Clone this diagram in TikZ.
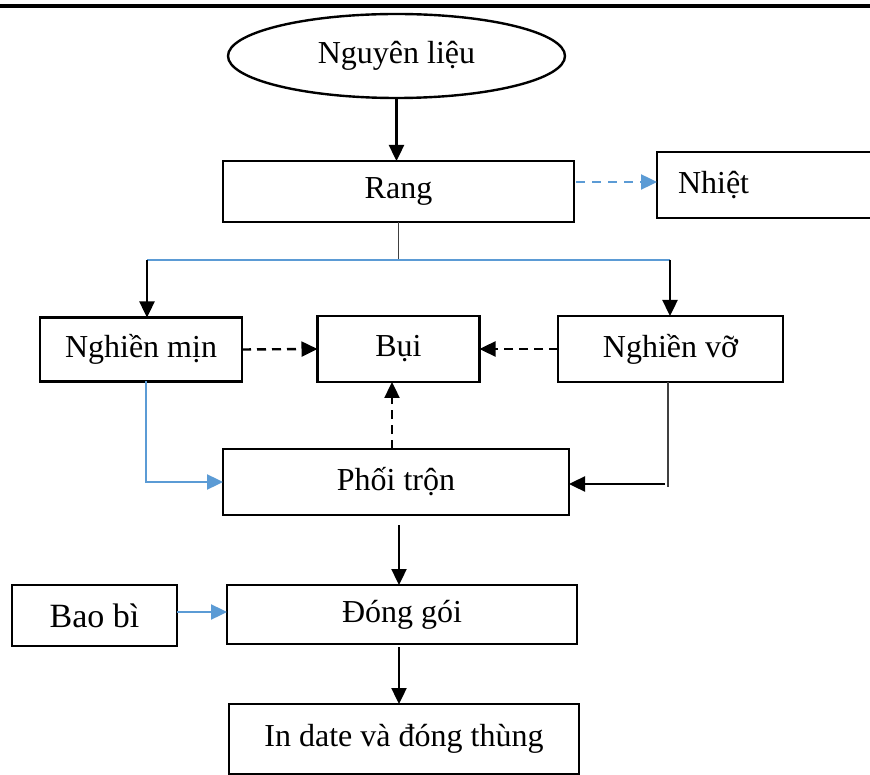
\documentclass[tikz,border=0pt]{standalone}
\usepackage{fontspec}
\setmainfont{Liberation Serif}
\usetikzlibrary{arrows.meta,shapes.geometric,calc}
\definecolor{flowblue}{HTML}{5B9BD5}
\definecolor{linegray}{HTML}{404040}
\tikzset{
  stepbox/.style={draw=black, line width=2.4pt, rectangle, inner sep=0pt, outer sep=0pt,
    font=\fontsize{32}{36}\selectfont},
  mainarrow/.style={draw=black, line width=2.4pt, -{Triangle[length=16pt,width=15pt]}},
  dustarrow/.style={draw=black, line width=2.4pt, dash pattern=on 9pt off 6pt, -{Triangle[length=16pt,width=15pt]}},
  bluearrow/.style={draw=flowblue, line width=2.4pt, -{Triangle[length=16pt,width=15pt]}},
  blueline/.style={draw=flowblue, line width=1.8pt},
  grayline/.style={draw=linegray, line width=1.5pt},
}
\begin{document}
\begin{tikzpicture}[x=1pt,y=-1pt]
\clip (0,0) rectangle (870,775);
\fill[white] (0,0) rectangle (870,775);

% rule across the top
\draw[line width=4pt] (0,6.5) -- (870,6.5);

% process steps
\node[ellipse, draw, line width=2.4pt, minimum width=337pt, minimum height=84pt, inner sep=0pt,
  font=\fontsize{32}{36}\selectfont] (nguyenlieu) at (396.5,56) {Nguyên liệu};
\node[stepbox, minimum width=351pt, minimum height=61pt] (rang) at (398.5,191.5) {Rang};
\node[stepbox, minimum width=230pt, minimum height=66pt, text width=188pt, inner xsep=21pt, align=left,
  anchor=north west] (nhiet) at (657,152) {Nhiệt};
\node[stepbox, minimum width=202pt, minimum height=64pt] (nghienmin) at (141,349.5) {Nghiền mịn};
\node[stepbox, minimum width=162pt, minimum height=66pt] (bui) at (398.5,349) {Bụi};
\node[stepbox, minimum width=225pt, minimum height=66pt] (nghienvo) at (670.5,349) {Nghiền vỡ};
\node[stepbox, minimum width=346pt, minimum height=66pt] (phoitron) at (396,482) {Phối trộn};
\node[stepbox, minimum width=350pt, minimum height=59pt] (donggoi) at (402,614.5) {Đóng gói};
\node[stepbox, minimum width=165pt, minimum height=61pt, font=\fontsize{34}{38}\selectfont] (baobi) at (94.5,615.5) {Bao bì};
\node[stepbox, minimum width=350pt, minimum height=70pt] (indate) at (404,739) {In date và đóng thùng};

% junction points
\coordinate (split) at (rang.south |- 0,260);
\coordinate (splitL) at (147,260);
\coordinate (splitR) at (670,260);
\coordinate (voturn) at (668,487);
\coordinate (voarrow) at (665,484);

% connectors
\draw[mainarrow] (nguyenlieu.south) -- (nguyenlieu.south |- rang.north);
\draw[bluearrow, dash pattern=on 9pt off 7pt, shorten <=2pt] (rang.east |- 0,182) -- (nhiet.west |- 0,182);

\draw[grayline] (rang.south) -- (split);
\draw[blueline] (splitL) -- (splitR);
\draw[mainarrow] (splitL) -- (splitL |- nghienmin.north);
\draw[mainarrow] (splitR) -- (splitR |- nghienvo.north);

\draw[dustarrow] (nghienmin.east) -- (bui.west);
\draw[dustarrow] (nghienvo.west) -- (bui.east);
\draw[dustarrow] ([xshift=-4pt]phoitron.north) -- ([xshift=-4pt]phoitron.north |- bui.south);

\draw[blueline] ([xshift=5pt]nghienmin.south) |- ([xshift=-14pt]phoitron.west);
\draw[bluearrow] ([xshift=-16pt]phoitron.west) -- (phoitron.west);

\draw[grayline] (nghienvo.south -| voturn) -- (voturn);
\draw[mainarrow] (voarrow) -- (phoitron.east |- voarrow);

\draw[mainarrow, shorten <=10pt] ([xshift=3pt]phoitron.south) -- ([xshift=3pt]phoitron.south |- donggoi.north);
\draw[bluearrow] (baobi.east |- 0,612) -- (donggoi.west |- 0,612);
\draw[mainarrow, shorten <=3pt] ([xshift=-3pt]donggoi.south) -- ([xshift=-3pt]donggoi.south |- indate.north);
\end{tikzpicture}
\end{document}
